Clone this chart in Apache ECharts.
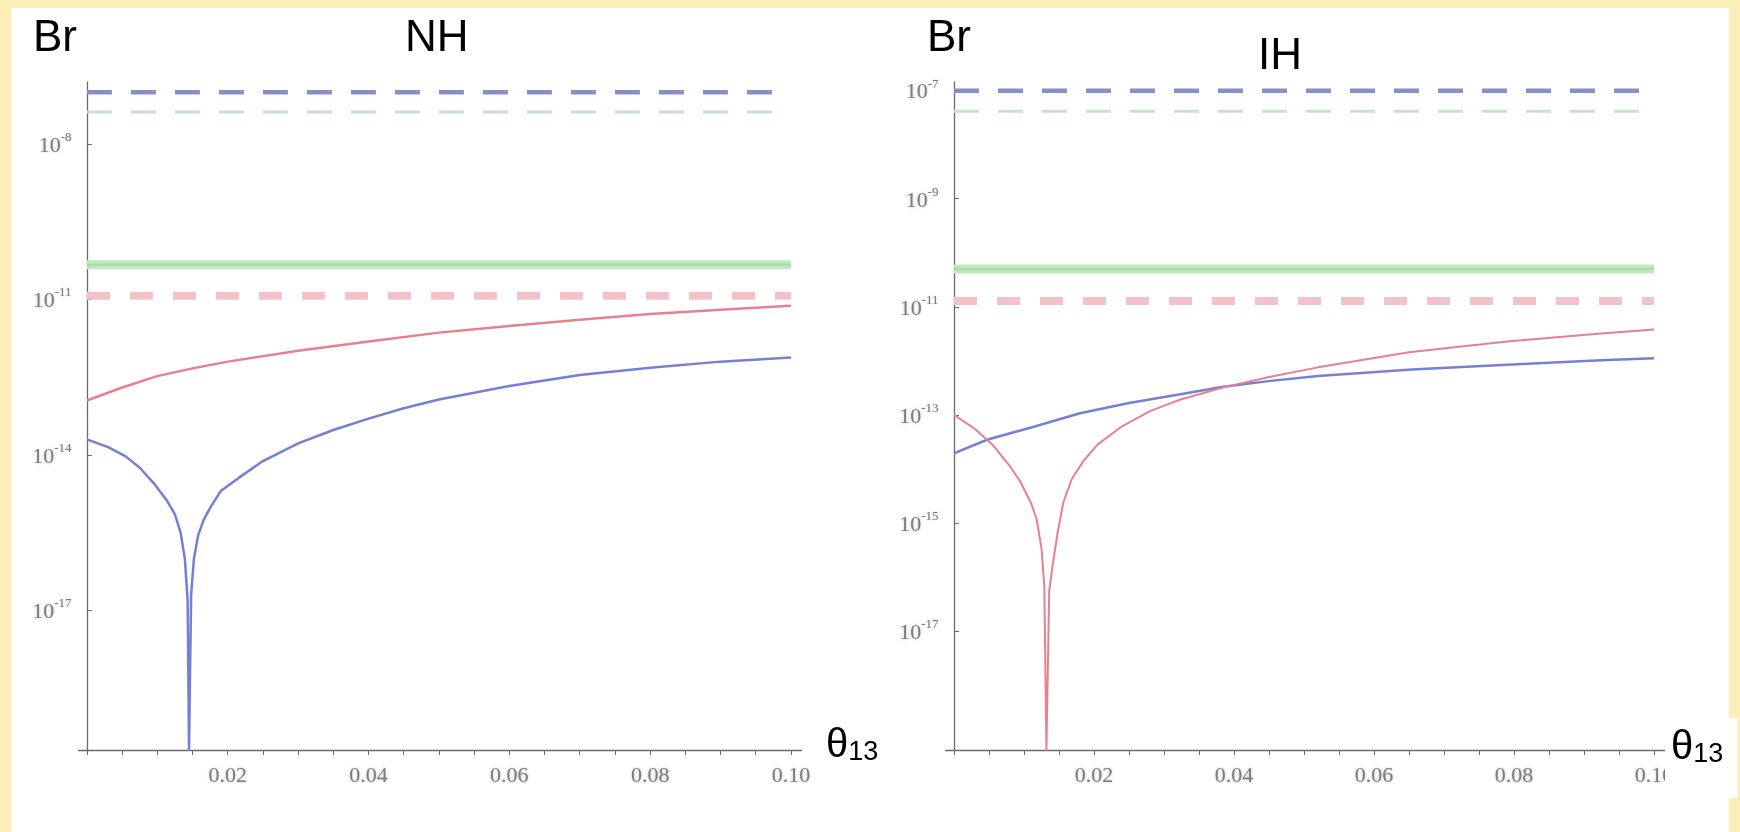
<!DOCTYPE html>
<html><head><meta charset="utf-8">
<script src="https://cdn.jsdelivr.net/npm/echarts@6/dist/echarts.min.js"></script>
<style>html,body{margin:0;padding:0;background:#fff}#c{width:1740px;height:832px}</style>
</head><body><div id="c"></div>
<script>
// ---- values: x = theta13, y = log10(Br) ----
const nhRedTheta = [0, 0.005, 0.01, 0.015, 0.02, 0.03, 0.04, 0.05, 0.06, 0.07, 0.08, 0.09, 0.10];
const nhRedLogBr = [-12.95, -12.70, -12.48, -12.33, -12.20, -11.99, -11.81, -11.64, -11.51, -11.39, -11.28, -11.20, -11.12];

const nhBlueTheta = [0, 0.003, 0.0055, 0.0075, 0.0095, 0.0113, 0.0125, 0.0133, 0.0139, 0.0143, 0.0145, 0.0148, 0.0152, 0.0158, 0.0166, 0.0176, 0.019, 0.0215, 0.025, 0.03, 0.035, 0.04, 0.045, 0.05, 0.06, 0.07, 0.08, 0.09, 0.10];
const nhBlueLogBr = [-13.70, -13.85, -14.03, -14.25, -14.55, -14.87, -15.15, -15.50, -16.00, -16.80, -19.70, -16.70, -16.00, -15.55, -15.25, -15.00, -14.70, -14.45, -14.12, -13.78, -13.52, -13.30, -13.10, -12.93, -12.67, -12.46, -12.32, -12.20, -12.12];

const ihRedTheta = [0, 0.003, 0.0055, 0.008, 0.0095, 0.011, 0.0118, 0.0125, 0.0129, 0.0132, 0.0136, 0.0141, 0.0148, 0.0156, 0.0168, 0.0185, 0.0205, 0.024, 0.028, 0.032, 0.0385, 0.045, 0.052, 0.065, 0.079, 0.092, 0.10];
const ihRedLogBr = [-13.00, -13.26, -13.55, -13.95, -14.24, -14.63, -14.93, -15.47, -16.16, -19.20, -16.26, -15.77, -15.18, -14.63, -14.19, -13.85, -13.55, -13.21, -12.93, -12.73, -12.49, -12.30, -12.12, -11.84, -11.64, -11.50, -11.42];

const ihBlueTheta = [0, 0.0047, 0.0114, 0.018, 0.025, 0.0317, 0.0385, 0.0452, 0.052, 0.0654, 0.079, 0.0924, 0.10];
const ihBlueLogBr = [-13.71, -13.46, -13.22, -12.97, -12.78, -12.63, -12.48, -12.37, -12.28, -12.16, -12.07, -11.99, -11.95];

// horizontal bounds (log10 Br): [NH, IH]
const blueBound = [-7.0, -7.0];
const greenDashBound = [-7.38, -7.38];
const greenBand = [-10.33, -10.30];
const redDashBound = [-10.93, -10.89];

// axes
const xRange = [0, 0.10];
const xTickLabels = [0.02, 0.04, 0.06, 0.08, 0.10];
const xTicks = [0, 0.005, 0.01, 0.015, 0.02, 0.025, 0.03, 0.035, 0.04, 0.045, 0.05, 0.055, 0.06, 0.065, 0.07, 0.075, 0.08, 0.085, 0.09, 0.095, 0.10];
const nhYTicks = [-17, -14, -11, -8];
const ihYTicks = [-17, -15, -13, -11, -9, -7];
const nhYRange = [-19.7, -6.8];
const ihYRange = [-19.2, -6.84];
const panelNames = ['NH', 'IH'];

// ---- build chart ----
const pairs = (xs, ys) => xs.map((x, i) => [x, ys[i]]);
const flat = v => [[xRange[0], v], [xRange[1], v]];
const grey = '#7c7c7c';

function xAxisDef(idx) {
  return {
    type: 'value', gridIndex: idx, min: -0.0012, max: 0.1015,
    axisLine: { show: true, lineStyle: { color: '#6a6a6a', width: 1.3 } },
    axisTick: { show: true, customValues: xTicks, inside: false, length: 5, lineStyle: { color: '#6a6a6a' } },
    axisLabel: { customValues: xTickLabels, formatter: v => v.toFixed(2), margin: 15,
      fontFamily: 'Liberation Serif', fontSize: 22, color: grey, textShadowColor: '#bdbdbd', textShadowBlur: 3 },
    splitLine: { show: false }
  };
}
function yAxisDef(idx, range, ticks) {
  return {
    type: 'value', gridIndex: idx, min: range[0], max: range[1],
    axisLine: { show: true, onZero: true, lineStyle: { color: '#6a6a6a', width: 1.3 } },
    axisTick: { show: true, customValues: ticks, inside: true, length: 5, lineStyle: { color: '#6a6a6a' } },
    axisLabel: { customValues: ticks, margin: 7,
      formatter: v => '{b|10}{s|' + Math.round(v) + '}',
      rich: {
        b: { fontFamily: 'Liberation Serif', fontSize: 22, color: grey, lineHeight: 26, verticalAlign: 'bottom', textShadowColor: '#bdbdbd', textShadowBlur: 3 },
        s: { fontFamily: 'Liberation Serif', fontSize: 13, color: grey, lineHeight: 13, verticalAlign: 'top', textShadowColor: '#bdbdbd', textShadowBlur: 2 }
      } },
    splitLine: { show: false }
  };
}
function lineSeries(idx, data, color, width, dash, z) {
  return {
    type: 'line', xAxisIndex: idx, yAxisIndex: idx, data: data, showSymbol: false, symbol: 'none',
    smooth: false, clip: true, silent: true, z: z || 2,
    lineStyle: dash
      ? { color: color, width: width, type: dash, cap: 'butt' }
      : { color: color, width: width, type: 'solid', join: 'round', cap: 'butt' }
  };
}

const series = [];
[0, 1].forEach(i => {
  series.push(lineSeries(i, flat(greenBand[i]), '#c2e8c2', 9, null, 1));
  series.push(lineSeries(i, flat(greenBand[i]), '#a8dca8', 2.5, null, 1));
  series.push(lineSeries(i, flat(greenDashBound[i]), '#c6e3c6', 3, [25, 19], 1));
  series.push(lineSeries(i, flat(blueBound[i]), '#8690c6', 4.5, [25, 19], 1));
  series.push(lineSeries(i, flat(redDashBound[i]), '#f3c2c8', 8, [23, 20], 1));
});
series.push(lineSeries(0, pairs(nhRedTheta, nhRedLogBr), '#e8808c', 2.5));
series.push(lineSeries(0, pairs(nhBlueTheta, nhBlueLogBr), '#7480d4', 2.5));
series.push(lineSeries(1, pairs(ihBlueTheta, ihBlueLogBr), '#7480d4', 2.5));
series.push(lineSeries(1, pairs(ihRedTheta, ihRedLogBr), '#e8808c', 2));

const titleFont = { fontFamily: 'Liberation Sans', fontSize: 44, fill: '#000' };
const thetaRich = {
  t: { fontFamily: 'Liberation Sans', fontSize: 40, color: '#000', verticalAlign: 'bottom', lineHeight: 46 },
  s: { fontFamily: 'Liberation Sans', fontSize: 27, color: '#000', verticalAlign: 'bottom', lineHeight: 36 }
};

const chart = echarts.init(document.getElementById('c'), null, { renderer: 'canvas' });
chart.setOption({
  animation: false,
  backgroundColor: '#ffffff',
  grid: [
    { left: 78.5, top: 82, width: 723, height: 668, containLabel: false },
    { left: 945.6, top: 82, width: 719, height: 668, containLabel: false }
  ],
  xAxis: [xAxisDef(0), xAxisDef(1)],
  yAxis: [yAxisDef(0, nhYRange, nhYTicks), yAxisDef(1, ihYRange, ihYTicks)],
  series: series,
  graphic: [
    { type: 'rect', z: 0, shape: { x: 0, y: 0, width: 11, height: 832 }, style: { fill: '#fbefb6' } },
    { type: 'rect', z: 0, shape: { x: 0, y: 0, width: 1740, height: 8 }, style: { fill: '#fbefb6' } },
    { type: 'rect', z: 0, shape: { x: 1729, y: 0, width: 11, height: 832 }, style: { fill: '#fbefb6' } },
    { type: 'text', z: 100, left: 33, top: 17, style: Object.assign({ text: 'Br' }, titleFont) },
    { type: 'text', z: 100, left: 405, top: 17, style: Object.assign({ text: panelNames[0] }, titleFont) },
    { type: 'text', z: 100, left: 927, top: 17, style: Object.assign({ text: 'Br' }, titleFont) },
    { type: 'text', z: 100, left: 1250, top: 33, style: Object.assign({ text: panelNames[1], backgroundColor: '#fff', padding: [2, 8, 0, 8] }, titleFont) },
    { type: 'text', z: 100, left: 826, top: 726, style: { text: '{t|θ}{s|13}', rich: thetaRich } },
    { type: 'text', z: 100, left: 1665, top: 718, style: { text: '{t|θ}{s|13}', rich: thetaRich, backgroundColor: '#fff', padding: [4, 14, 30, 6] } }
  ]
});
</script></body></html>
